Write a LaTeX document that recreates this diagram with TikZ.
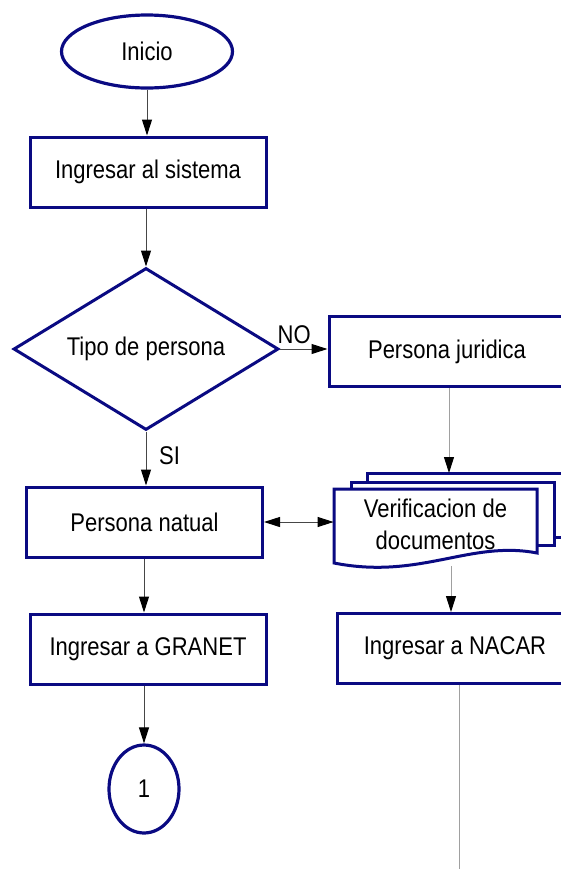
\documentclass[tikz,border=0pt]{standalone}
\usepackage{fontspec}
\setmainfont{Liberation Sans}[FakeStretch=0.86]
\usetikzlibrary{shapes.geometric,arrows.meta}
\definecolor{borde}{RGB}{10,10,130}
\definecolor{linea}{RGB}{70,70,70}
\definecolor{lineaclara}{RGB}{160,160,160}
\begin{document}
\begin{tikzpicture}[x=0.5pt,y=-0.5pt,
	font=\fontsize{12.8}{16}\selectfont,
	proceso/.style={draw=borde,line width=1.5pt,fill=white,minimum width=118pt,minimum height=35pt,inner sep=0pt},
	decision/.style={draw=borde,line width=1.5pt,diamond,aspect=1.64,minimum width=132.5pt,minimum height=81pt,inner sep=0pt},
	terminal/.style={draw=borde,line width=1.6pt,ellipse,inner sep=0pt},
	flecha/.style={draw=linea,line width=0.5pt,-{Triangle[length=8pt,width=5pt,black]}},
	flechaclara/.style={draw=lineaclara,line width=0.5pt,-{Triangle[length=8pt,width=5pt,black]}},
	pagina/.style={draw=borde,line width=1.5pt,fill=white}]
	\useasboundingbox (0,0) rectangle (561,869);
	\clip (0,0) rectangle (561,869);
	% columna izquierda
	\node[terminal,minimum width=85.5pt,minimum height=36.5pt] (inicio) at (147,51.5) {Inicio};
	\node[proceso] (sistema) at (148,172) {Ingresar al sistema};
	\node[decision] (tipo) at (146,349) {Tipo de persona};
	\node[proceso] (natual) at (144.5,522) {Persona natual};
	\node[proceso] (granet) at (148,649) {Ingresar a GRANET};
	\node[terminal,minimum width=35pt,minimum height=44pt] (uno) at (144,789) {1};
	% columna derecha
	\node[proceso] (juridica) at (447,351.5) {Persona juridica};
	\draw[pagina] (367,473) rectangle (600,537);
	\draw[pagina] (351,482) rectangle (554,545);
	\draw[pagina] (334,489) -- (537,489) -- (537,553)
		.. controls (470,540) and (420,580) .. (334,563) -- cycle;
	\node[align=center,minimum width=101.5pt,minimum height=37pt] (docs) at (435.5,524) {Verificacion de\\documentos};
	\node[proceso] (nacar) at (455,648.5) {Ingresar a NACAR};
	\coordinate (pila) at (449,473);
	\coordinate (pilab) at (451,566);
	\coordinate (fin) at (459,880);
	% conectores
	\draw[flecha] (inicio.south) -- (inicio.south |- sistema.north);
	\draw[flecha] (tipo.north |- sistema.south) -- (tipo.north);
	\draw[flecha] (tipo.east) -- (tipo.east -| juridica.west) node[pos=0.3,above=-1pt] {NO};
	\draw[flecha] (tipo.south) -- (tipo.south |- natual.north) node[pos=0.45,right=3pt] {SI};
	\draw[draw=linea,line width=0.5pt,{Triangle[length=8pt,width=5pt,black]}-{Triangle[length=8pt,width=5pt,black]}] (natual.east) -- (natual.east -| docs.west);
	\draw[flecha] (uno.north |- natual.south) -- (uno.north |- granet.north);
	\draw[flecha] (uno.north |- granet.south) -- (uno.north);
	\draw[flechaclara] (juridica.south -| pila) -- (pila);
	\draw[flechaclara] (pilab) -- (pilab |- nacar.north);
	\draw[draw=lineaclara,line width=0.5pt] (nacar.south -| fin) -- (fin);
\end{tikzpicture}
\end{document}
